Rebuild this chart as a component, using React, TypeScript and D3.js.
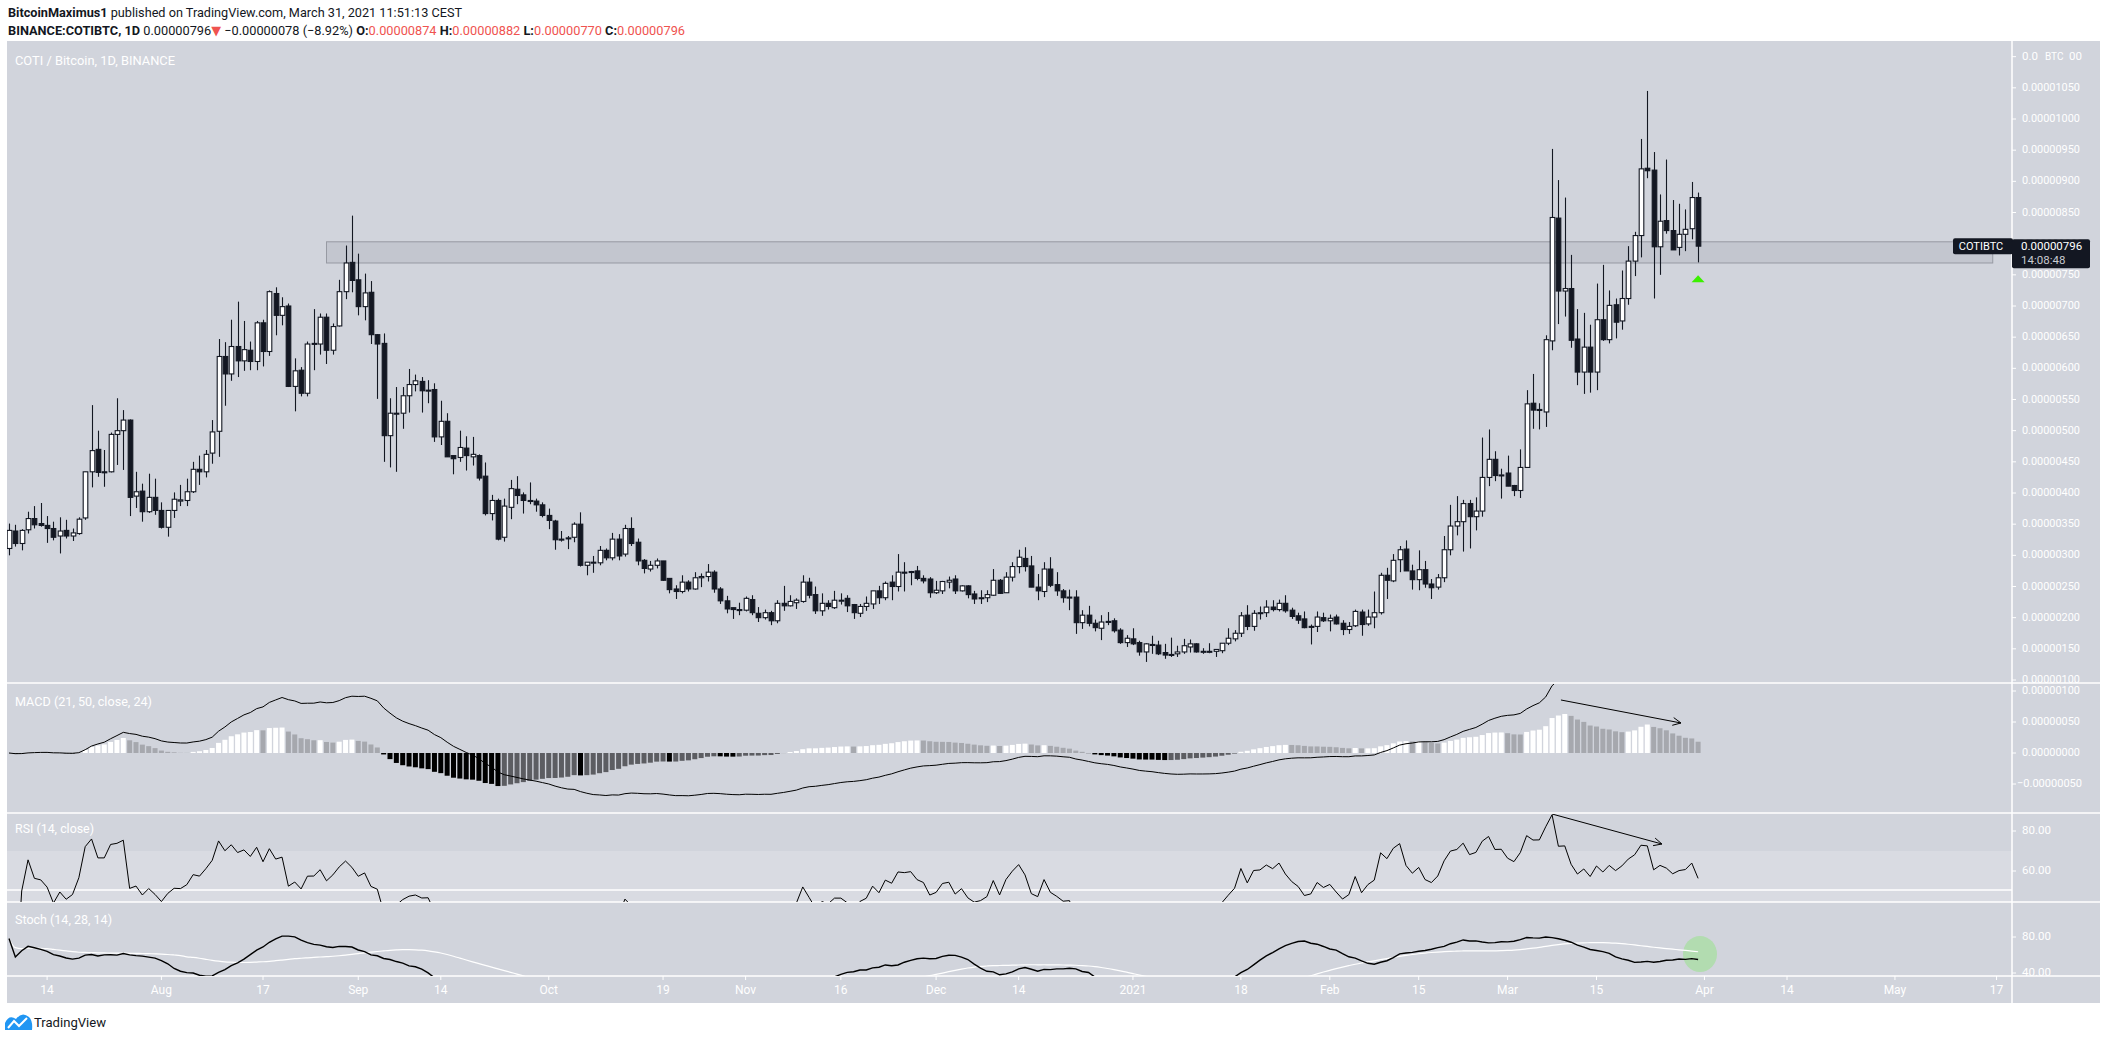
import React from "react";
import * as d3 from "d3";

// ---------- DATA (prices in satoshi, 1e-8 BTC) ----------
const START = Date.UTC(2020, 6, 8); // first daily candle
const DAY = 86400000;

const opens = [
  311,339,319,341,359,351,348,343,331,340, 331,335,360,434,470,434,434,494,500,517,
  395,403,370,393,372,345,372,387,388,402, 438,434,464,499,619,591,635,612,629,611,
  673,627,720,685,700,571,597,560,639,639, 682,629,668,723,770,742,699,722,654,640,
  492,528,528,556,574,579,565,566,490,515, 460,457,472,458,460,427,367,388,329,377,
  406,397,388,387,381,364,355,326,328,329, 350,284,289,288,308,296,326,302,343,321,
  292,278,284,291,263,246,242,257,246,264, 266,273,246,227,216,213,212,229,207,200,
  208,195,223,219,224,226,257,237,211,223, 216,228,231,221,207,218,222,243,232,257,
  250,273,273,275,263,262,240,243,257,262, 243,251,238,232,232,236,260,240,265,282,
  295,283,249,242,278,253,243,233,233,192, 204,191,183,193,195,180,160,166,160,145,
  157,156,144,141,142,145,153,158,145,146, 146,147,159,166,175,204,186,208,208,217,
  213,223,212,203,198,186,186,200,195,201, 191,181,187,209,190,201,208,268,259,293,
  310,275,261,277,254,249,264,309,347,354, 383,362,371,425,454,429,432,412,404,441,
  544,534,530,644,841,724,728,647,594,634, 594,678,646,702,676,712,772,813,921,918,
  795,837,821,794,815,824,874,
];
const highs = [
  351,349,342,370,379,384,363,354,361,357, 343,361,434,541,500,469,497,552,533,518,
  434,415,431,423,385,372,401,413,423,450, 460,469,517,647,642,678,707,676,643,676,
  678,725,730,714,704,616,602,643,695,688, 688,672,742,797,845,784,752,740,655,656,
  552,570,570,599,590,586,581,576,548,528, 460,500,491,490,462,449,397,391,391,421,
  427,401,417,391,385,375,357,339,331,353, 369,289,299,315,311,336,334,349,361,327,
  294,291,295,291,263,252,268,260,273,271, 286,276,249,235,216,224,234,236,217,213,
  211,228,251,236,231,268,264,250,239,228, 243,239,236,222,222,234,243,251,258,268,
  302,289,275,283,268,265,259,259,266,268, 252,252,243,244,244,278,262,273,289,309,
  313,299,270,289,297,273,246,245,244,212, 219,197,204,209,199,183,172,183,163,159,
  171,163,158,168,155,166,165,159,151,159, 149,159,183,180,209,220,212,218,228,228,
  229,236,216,208,210,189,210,208,205,205, 196,193,213,213,213,242,272,280,302,315,
  324,285,308,291,262,270,331,381,395,389, 389,393,489,502,467,439,460,413,470,565,
  591,544,653,952,902,874,782,695,689,670, 736,766,725,712,757,796,819,968,1045,947,
  879,935,870,864,855,899,882,
];
const lows = [
  300,314,308,335,343,346,320,324,303,327, 323,333,357,409,426,410,433,445,437,363,
  376,354,368,365,343,330,360,379,379,400, 413,425,447,458,540,580,586,596,597,597,
  603,620,653,669,570,531,555,555,597,622, 607,622,667,711,722,685,677,639,551,450,
  441,434,503,529,563,529,544,482,477,458, 430,450,436,444,420,364,356,324,322,358,
  382,367,382,370,361,342,309,322,310,321, 282,268,272,284,292,292,292,298,315,284,
  271,274,279,259,239,230,239,242,245,249, 258,240,222,207,198,204,210,204,193,197,
  188,191,211,218,214,224,231,206,203,213, 214,221,209,198,201,211,214,222,228,228,
  242,242,252,260,255,232,238,238,247,238, 242,231,222,222,225,235,238,240,258,271,
  274,249,228,233,249,235,224,212,174,182, 186,178,164,188,176,158,153,156,139,129,
  142,140,134,137,137,142,144,144,142,143, 137,143,156,162,169,180,179,197,201,210,
  210,208,198,190,183,157,177,193,178,189, 172,174,185,171,187,183,205,230,257,273,
  275,245,244,248,230,245,257,300,332,306, 311,340,362,411,419,391,411,395,392,441,
  503,502,506,629,671,683,633,573,559,561, 565,644,640,648,662,702,748,778,905,712,
  750,816,790,781,788,807,770,
];
const closes = [
  340,319,340,359,349,348,343,329,339,331, 336,358,434,468,433,433,494,500,517,393,
  402,370,393,372,345,372,390,389,402,438, 434,462,498,619,591,635,612,630,611,673,
  627,723,685,699,571,596,560,639,640,682, 629,667,723,769,741,699,721,654,639,492,
  528,528,556,574,580,564,565,490,515,458, 455,473,460,462,424,367,388,326,379,407,
  396,388,388,381,364,356,325,326,328,350, 284,289,289,308,296,326,299,343,319,291,
  279,284,291,260,245,242,257,246,264,266, 273,246,227,214,213,213,231,208,200,208,
  195,223,219,226,228,257,236,211,223,218, 228,228,219,208,218,223,243,232,255,250,
  273,272,274,263,259,240,244,258,260,243, 251,237,230,232,237,260,239,265,282,297,
  282,249,243,278,252,243,232,233,192,204, 191,184,193,194,179,160,167,158,145,158,
  157,142,140,141,145,155,158,145,146,146, 149,159,167,175,203,186,207,208,217,213,
  223,211,202,196,184,186,201,195,199,190, 181,186,210,189,201,208,268,260,292,309,
  275,261,277,254,248,264,309,347,354,383, 362,371,425,454,428,429,411,404,441,543,
  533,534,646,842,724,728,645,594,634,594, 678,646,701,674,712,772,813,920,917,795,
  836,821,790,815,823,874,796,
];

const priceTicks = [100,150,200,250,300,350,400,450,500,550,600,650,700,750,800,850,900,950,1000,1050];
const topPriceTick = 1100; // partly hidden behind the "BTC" currency label
const macdTicks = [100, 50, 0, -50];
const rsiTicks = [80, 60];
const stochTicks = [80, 40];
const timeTickDates = ["2020-07-14","2020-08-01","2020-08-17","2020-09-01","2020-09-14","2020-10-01","2020-10-19","2020-11-01","2020-11-16","2020-12-01","2020-12-14","2021-01-01","2021-01-18","2021-02-01","2021-02-15","2021-03-01","2021-03-15","2021-04-01","2021-04-14","2021-05-01","2021-05-17"];
const timeTickLabels = ["14","Aug","17","Sep","14","Oct","19","Nov","16","Dec","14","2021","18","Feb","15","Mar","15","Apr","14","May","17"];

// resistance zone (price range, day index range)
const zonePrices = [769, 803];
const zoneDays = [50, 312.4];
// annotation arrows [dayIndex, value]
const macdArrow = [[244.4, 85.5], [263.3, 48.4]];
const rsiArrow = [[243, 88.5], [260.3, 73.5]];
const stochCircle = [266.3, 61];

// ---------- INDICATORS ----------
function ema(src: number[], n: number) {
  const a = 2 / (n + 1);
  const out: number[] = [];
  src.forEach((v, i) => out.push(i === 0 ? v : a * v + (1 - a) * out[i - 1]));
  return out;
}
function sma(src: number[], n: number) {
  return src.map((_, i) => d3.mean(src.slice(Math.max(0, i - n + 1), i + 1)) as number);
}
const ema50 = ema(closes, 50);
const ema21 = ema(closes, 21);
const macd = ema21.map((v, i) => v - ema50[i]);
const signal = ema(macd, 24);
const hist = macd.map((v, i) => v - signal[i]);

const rsi: number[] = [];
{
  let ag = 0, al = 0;
  for (let i = 0; i < closes.length; i++) {
    if (i === 0) { rsi.push(NaN); continue; }
    const ch = closes[i] - closes[i - 1];
    const g = Math.max(ch, 0), l = Math.max(-ch, 0);
    if (i <= 14) { ag = (ag * (i - 1) + g) / i; al = (al * (i - 1) + l) / i; }
    else { ag = (ag * 13 + g) / 14; al = (al * 13 + l) / 14; }
    rsi.push(al === 0 ? 100 : 100 - 100 / (1 + ag / al));
  }
}
const rawK = closes.map((c, i) => {
  const lo = d3.min(lows.slice(Math.max(0, i - 13), i + 1)) as number;
  const hi = d3.max(highs.slice(Math.max(0, i - 13), i + 1)) as number;
  return hi === lo ? 50 : (100 * (c - lo)) / (hi - lo);
});
const stochK = sma(rawK, 14);
const stochD = sma(stochK, 28);

// ---------- STYLE ----------
const FONT = "Roboto, 'Noto Sans', 'DejaVu Sans', sans-serif";
const BG = "#d1d4dc";
const DARK = "#131722";
const RED = "#ef5350";

const fmt = (v: number) => (v < 0 ? "\u2212" : "") + (Math.abs(v) * 1e-8).toFixed(8);

export default function App() {
  const n = closes.length;
  const dates = d3.range(n).map((i) => new Date(START + i * DAY));
  const xT = d3.scaleUtc().domain([dates[0], dates[n - 1]]).range([9, 9 + (n - 1) * 6.35]);
  const xI = d3.scaleLinear().domain([0, n - 1]).range([9, 9 + (n - 1) * 6.35]);
  const yP = d3.scaleLinear().domain([100, 1000]).range([680, 119]);
  const yM = d3.scaleLinear().domain([0, 100]).range([753, 691]);
  const yR = d3.scaleLinear().domain([80, 60]).range([831, 871]);
  const yS = d3.scaleLinear().domain([80, 40]).range([937, 973]);

  const L = 7, R = 2012, AX = 2100;
  const paneMain = [41, 683], paneMacd = [684, 813], paneRsi = [814, 902], paneSto = [903, 976];

  const bodyW = 4.6;
  const macdPath = d3.line<number>().x((_, i) => xI(i)).y((v) => yM(v))(macd) || "";
  const rsiPath = d3.line<number>().defined((v) => !isNaN(v)).x((_, i) => xI(i)).y((v) => yR(v))(rsi) || "";
  const kPath = d3.line<number>().x((_, i) => xI(i)).y((v) => yS(v))(stochK) || "";
  const dPath = d3.line<number>().x((_, i) => xI(i)).y((v) => yS(v)).curve(d3.curveMonotoneX)(stochD) || "";

  const arrow = (pts: number[][], ys: (v: number) => number) => {
    const x1 = xI(pts[0][0]), y1 = ys(pts[0][1]), x2 = xI(pts[1][0]), y2 = ys(pts[1][1]);
    const a = Math.atan2(y2 - y1, x2 - x1), len = 9, ang = 0.45;
    return (
      <g stroke="#000" strokeWidth={1} fill="none">
        <line x1={x1} y1={y1} x2={x2} y2={y2} />
        <path d={`M${x2 - len * Math.cos(a - ang)},${y2 - len * Math.sin(a - ang)}L${x2},${y2}L${x2 - len * Math.cos(a + ang)},${y2 - len * Math.sin(a + ang)}`} />
      </g>
    );
  };

  const histColor = (i: number) => {
    const h = hist[i], p = i > 0 ? hist[i - 1] : h;
    if (h >= 0) return p < h ? "#ffffff" : "#a6a8ae";
    return p < h ? "#5c5d62" : "#000000";
  };

  const last = closes[n - 1];
  const tagY = yP(last);
  const topLbl = fmt(topPriceTick); // "0.00001100"

  return (
    <svg width={2107} height={1041} style={{ position: "absolute", left: 0, top: 0, background: "#fff" }} fontFamily={FONT}>
      <defs>
        <clipPath id="cMain"><rect x={L} y={paneMain[0]} width={R - L} height={paneMain[1] - paneMain[0]} /></clipPath>
        <clipPath id="cMacd"><rect x={L} y={paneMacd[0]} width={R - L} height={paneMacd[1] - paneMacd[0]} /></clipPath>
        <clipPath id="cRsi"><rect x={L} y={paneRsi[0]} width={R - L} height={paneRsi[1] - paneRsi[0]} /></clipPath>
        <clipPath id="cSto"><rect x={L} y={paneSto[0]} width={R - L} height={paneSto[1] - paneSto[0]} /></clipPath>
        <clipPath id="cStoAx"><rect x={R} y={paneSto[0]} width={AX - R} height={paneSto[1] - paneSto[0]} /></clipPath>
      </defs>

      {/* header */}
      <text x={8} y={17} fontSize={13} fill={DARK} textLength={454} lengthAdjust="spacingAndGlyphs">
        <tspan fontWeight="bold">BitcoinMaximus1</tspan>{" published on TradingView.com, March 31, 2021 11:51:13 CEST"}
      </text>
      <text x={8} y={34.5} fontSize={13} fill={DARK} textLength={677} lengthAdjust="spacingAndGlyphs">
        <tspan fontWeight="bold">BINANCE:COTIBTC, 1D</tspan>{" 0.00000796"}
        <tspan fill={RED}>{"\u25BC"}</tspan>{" \u22120.00000078 (\u22128.92%) "}
        <tspan fontWeight="bold">O:</tspan><tspan fill={RED}>0.00000874</tspan>{" "}
        <tspan fontWeight="bold">H:</tspan><tspan fill={RED}>0.00000882</tspan>{" "}
        <tspan fontWeight="bold">L:</tspan><tspan fill={RED}>0.00000770</tspan>{" "}
        <tspan fontWeight="bold">C:</tspan><tspan fill={RED}>0.00000796</tspan>
      </text>

      {/* chart background */}
      <rect x={L} y={41} width={AX - L} height={1003 - 41} fill={BG} />
      {/* RSI band */}
      <rect x={L} y={yR(70)} width={R - L} height={paneRsi[1] - yR(70)} fill="#d9dbe2" />
      <line x1={L} x2={R} y1={yR(50.5)} y2={yR(50.5)} stroke="#fff" strokeWidth={1.5} />

      {/* pane separators */}
      {[683, 813, 902, 976].map((y) => (
        <line key={y} x1={L} x2={AX} y1={y} y2={y} stroke="#fff" strokeWidth={1.5} />
      ))}
      <line x1={R} x2={R} y1={41} y2={1003} stroke="#fff" strokeWidth={1.5} />

      {/* pane titles */}
      <text x={15} y={65} fontSize={12} fill="#fff" textLength={160} lengthAdjust="spacingAndGlyphs">COTI / Bitcoin, 1D, BINANCE</text>
      <text x={15} y={706} fontSize={12} fill="#fff" textLength={137} lengthAdjust="spacingAndGlyphs">MACD (21, 50, close, 24)</text>
      <text x={15} y={833} fontSize={12} fill="#fff" textLength={79} lengthAdjust="spacingAndGlyphs">RSI (14, close)</text>
      <text x={15} y={924} fontSize={12} fill="#fff" textLength={97} lengthAdjust="spacingAndGlyphs">Stoch (14, 28, 14)</text>

      {/* main pane */}
      <g clipPath="url(#cMain)">
        <rect x={xI(zoneDays[0])} y={yP(zonePrices[1])} width={xI(zoneDays[1]) - xI(zoneDays[0])}
          height={yP(zonePrices[0]) - yP(zonePrices[1])} fill="#c3c6cf" stroke="#979aa3" strokeWidth={1} />
        {closes.map((c, i) => {
          const o = opens[i];
          const cx = Math.round(xI(i)) + 0.5;
          const top = yP(Math.max(o, c)), bot = yP(Math.min(o, c));
          const up = c >= o;
          return (
            <g key={i}>
              <line x1={cx} x2={cx} y1={yP(highs[i])} y2={yP(lows[i])} stroke={DARK} strokeWidth={1.1} />
              <rect x={cx - bodyW / 2} y={top} width={bodyW} height={Math.max(bot - top, 1)}
                fill={up ? "#ffffff" : DARK} stroke={DARK} strokeWidth={1.1} />
            </g>
          );
        })}
        <path d={`M${xI(n - 1) - 6.5},${yP(lows[n - 1]) + 20}L${xI(n - 1)},${yP(lows[n - 1]) + 13}L${xI(n - 1) + 6.5},${yP(lows[n - 1]) + 20}Z`} fill="#3cf000" />
      </g>

      {/* MACD pane */}
      <g clipPath="url(#cMacd)">
        {hist.map((h, i) => (
          <rect key={i} x={xI(i) - 2.5} width={5} y={Math.min(yM(h), yM(0))} height={Math.abs(yM(h) - yM(0))} fill={histColor(i)} />
        ))}
        <path d={macdPath} fill="none" stroke="#000" strokeWidth={1} />
        {arrow(macdArrow, yM)}
      </g>

      {/* RSI pane */}
      <g clipPath="url(#cRsi)">
        <path d={rsiPath} fill="none" stroke="#000" strokeWidth={1} />
        {arrow(rsiArrow, yR)}
      </g>

      {/* Stoch pane */}
      <g clipPath="url(#cSto)">
        <ellipse cx={xI(stochCircle[0])} cy={yS(stochCircle[1])} rx={17} ry={18} fill="#b2dcb0" />
        <path d={dPath} fill="none" stroke="#ffffff" strokeWidth={1.2} />
        <path d={kPath} fill="none" stroke="#000" strokeWidth={1.4} />
      </g>

      {/* price axis */}
      <g fontSize={11.5} fill="#fff">
        {priceTicks.map((t) => (
          <g key={t}>
            <line x1={R} x2={R + 4} y1={yP(t)} y2={yP(t)} stroke="#fff" />
            <text x={R + 10} y={yP(t)} dominantBaseline="middle" textLength={58} lengthAdjust="spacingAndGlyphs">{fmt(t)}</text>
          </g>
        ))}
        <line x1={R} x2={R + 4} y1={yP(topPriceTick)} y2={yP(topPriceTick)} stroke="#fff" />
        <text x={R + 10} y={yP(topPriceTick)} dominantBaseline="middle">{topLbl.slice(0, 3)}</text>
        <text x={2045} y={yP(topPriceTick) + 1} fontSize={10} dominantBaseline="middle">BTC</text>
        <text x={2069} y={yP(topPriceTick)} dominantBaseline="middle">{topLbl.slice(8)}</text>
        {macdTicks.map((t) => (
          <g key={"m" + t}>
            <line x1={R} x2={R + 4} y1={yM(t)} y2={yM(t)} stroke="#fff" />
            <text x={t < 0 ? R + 5 : R + 10} y={yM(t)} dominantBaseline="middle" textLength={t < 0 ? 65 : 58} lengthAdjust="spacingAndGlyphs">{fmt(t)}</text>
          </g>
        ))}
        {rsiTicks.map((t) => (
          <g key={"r" + t}>
            <line x1={R} x2={R + 4} y1={yR(t)} y2={yR(t)} stroke="#fff" />
            <text x={R + 10} y={yR(t)} dominantBaseline="middle">{t.toFixed(2)}</text>
          </g>
        ))}
        <g clipPath="url(#cStoAx)">
          {stochTicks.map((t) => (
            <g key={"s" + t}>
              <line x1={R} x2={R + 4} y1={yS(t)} y2={yS(t)} stroke="#fff" />
              <text x={R + 10} y={yS(t)} dominantBaseline="middle">{t.toFixed(2)}</text>
            </g>
          ))}
        </g>
      </g>

      {/* last price tags */}
      <rect x={1953} y={tagY - 8} width={60} height={16} rx={2} fill={DARK} />
      <text x={1981} y={tagY + 0.5} fontSize={11} fill="#fff" textAnchor="middle" dominantBaseline="middle">COTIBTC</text>
      <rect x={R} y={tagY - 7} width={78} height={29} rx={2} fill={DARK} />
      <text x={R + 9} y={tagY + 1} fontSize={11.5} fill="#fff" dominantBaseline="middle">{fmt(last)}</text>
      <text x={R + 9} y={tagY + 15} fontSize={11.5} fill="#c8cad0" dominantBaseline="middle">14:08:48</text>

      {/* time axis */}
      <g fontSize={12} fill="#fff">
        {timeTickDates.map((d, k) => {
          const x = xT(new Date(d + "T00:00:00Z"));
          return (
            <g key={d}>
              <line x1={x} x2={x} y1={976} y2={980} stroke="#fff" />
              <text x={x} y={994} textAnchor="middle">{timeTickLabels[k]}</text>
            </g>
          );
        })}
      </g>

      {/* TradingView logo */}
      <path d="M5,1030 L5,1023 Q9,1014 16,1019 Q22,1011 29,1017 Q33,1021 32,1030 Z" fill="#2196f3" />
      <path d="M8,1028 L14,1021 L19,1026 L27,1018" fill="none" stroke="#fff" strokeWidth={2} />
      <text x={34} y={1027} fontSize={13} fill={DARK} textLength={72} lengthAdjust="spacingAndGlyphs">TradingView</text>
    </svg>
  );
}
